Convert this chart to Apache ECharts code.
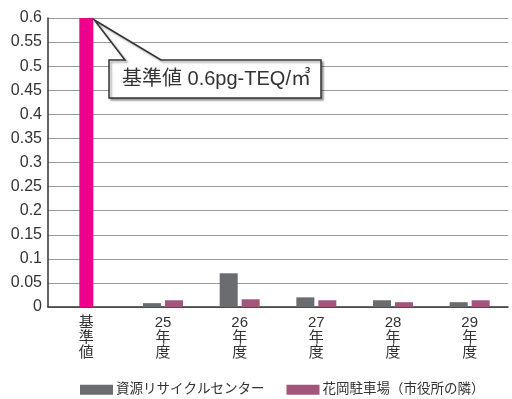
<!DOCTYPE html>
<html>
<head>
<meta charset="utf-8">
<script src="https://cdn.jsdelivr.net/npm/echarts@6/dist/echarts.min.js"></script>
<style>
html,body{margin:0;padding:0;background:#fff;}
#main{width:512px;height:399px;}
</style>
</head>
<body>
<div id="main"></div>
<script>
// データ
const categories = ['基準値', '25年度', '26年度', '27年度', '28年度', '29年度'];
const standardValues = [0.6, '-', '-', '-', '-', '-'];
const recycleCenter = ['-', 0.008, 0.07, 0.02, 0.014, 0.01];
const hanaokaParking = ['-', 0.014, 0.016, 0.014, 0.01, 0.014];
const seriesNames = ['資源リサイクルセンター', '花岡駐車場（市役所の隣）'];
const calloutText = '基準値 0.6pg-TEQ/㎥';

const font = '"Liberation Sans", "Noto Sans CJK JP", sans-serif';
const myChart = echarts.init(document.getElementById('main'));

// ラベルを縦書きに
function verticalLabel(v) {
    const m = v.match(/^(\d+)(.*)$/);
    const parts = m ? [m[1]].concat(m[2].split('')) : v.split('');
    return parts.join('\n');
}

myChart.setOption({
    animation: false,
    grid: { left: 48, right: 4, top: 18, bottom: 92 },
    legend: {
        top: 378,
        left: 75,
        itemWidth: 33,
        itemHeight: 10,
        itemGap: 22,
        icon: 'rect',
        data: seriesNames,
        textStyle: { fontFamily: font, fontSize: 13.5, color: '#333', padding: [0, 0, 0, -2] }
    },
    xAxis: [
        {
            type: 'category',
            data: categories,
            axisLine: { lineStyle: { color: '#333', width: 1.5 } },
            axisTick: { show: false },
            axisLabel: {
                interval: 0,
                formatter: verticalLabel,
                fontFamily: font,
                fontSize: 15,
                lineHeight: 15,
                verticalAlign: 'top',
                color: '#333',
                margin: 8
            }
        },
        {
            type: 'category',
            data: categories,
            show: false
        }
    ],
    yAxis: {
        type: 'value',
        min: 0,
        max: 0.6,
        interval: 0.05,
        axisLine: { show: true, lineStyle: { color: '#333', width: 1.5 } },
        axisTick: { show: false },
        splitLine: { lineStyle: { color: '#999', width: 1 } },
        axisLabel: { fontFamily: font, fontSize: 16, color: '#333', margin: 6 }
    },
    series: [
        {
            name: seriesNames[0],
            type: 'bar',
            data: recycleCenter,
            barWidth: 18,
            barGap: '22%',
            itemStyle: { color: '#6b6c70' }
        },
        {
            name: seriesNames[1],
            type: 'bar',
            data: hanaokaParking,
            barWidth: 18,
            itemStyle: { color: '#a4557c' }
        },
        {
            name: '基準値',
            type: 'bar',
            xAxisIndex: 1,
            data: standardValues,
            barWidth: 14,
            itemStyle: { color: '#ec008c' }
        }
    ]
});

// 吹き出し
const tip = myChart.convertToPixel({ xAxisIndex: 1, yAxisIndex: 0 }, [0, 0.6]);
const tx = tip[0] + 8, ty = tip[1] + 2;
const bx = 109, by = 60, bw = 212, bh = 38;
myChart.setOption({
    graphic: [
        {
            type: 'polygon',
            shape: {
                points: [
                    [bx, by], [bx + 16, by], [tx, ty], [bx + 52, by],
                    [bx + bw, by], [bx + bw, by + bh], [bx, by + bh]
                ]
            },
            style: {
                fill: '#fff',
                stroke: '#333',
                lineWidth: 1.5,
                shadowColor: 'rgba(0,0,0,0.35)',
                shadowOffsetX: 2,
                shadowOffsetY: 2,
                shadowBlur: 2
            },
            z: 100
        },
        {
            type: 'text',
            x: bx + 13,
            y: by + bh / 2,
            style: {
                text: calloutText,
                fontFamily: font,
                fontSize: 20,
                fill: '#333',
                verticalAlign: 'middle'
            },
            z: 101
        }
    ]
});
</script>
</body>
</html>
